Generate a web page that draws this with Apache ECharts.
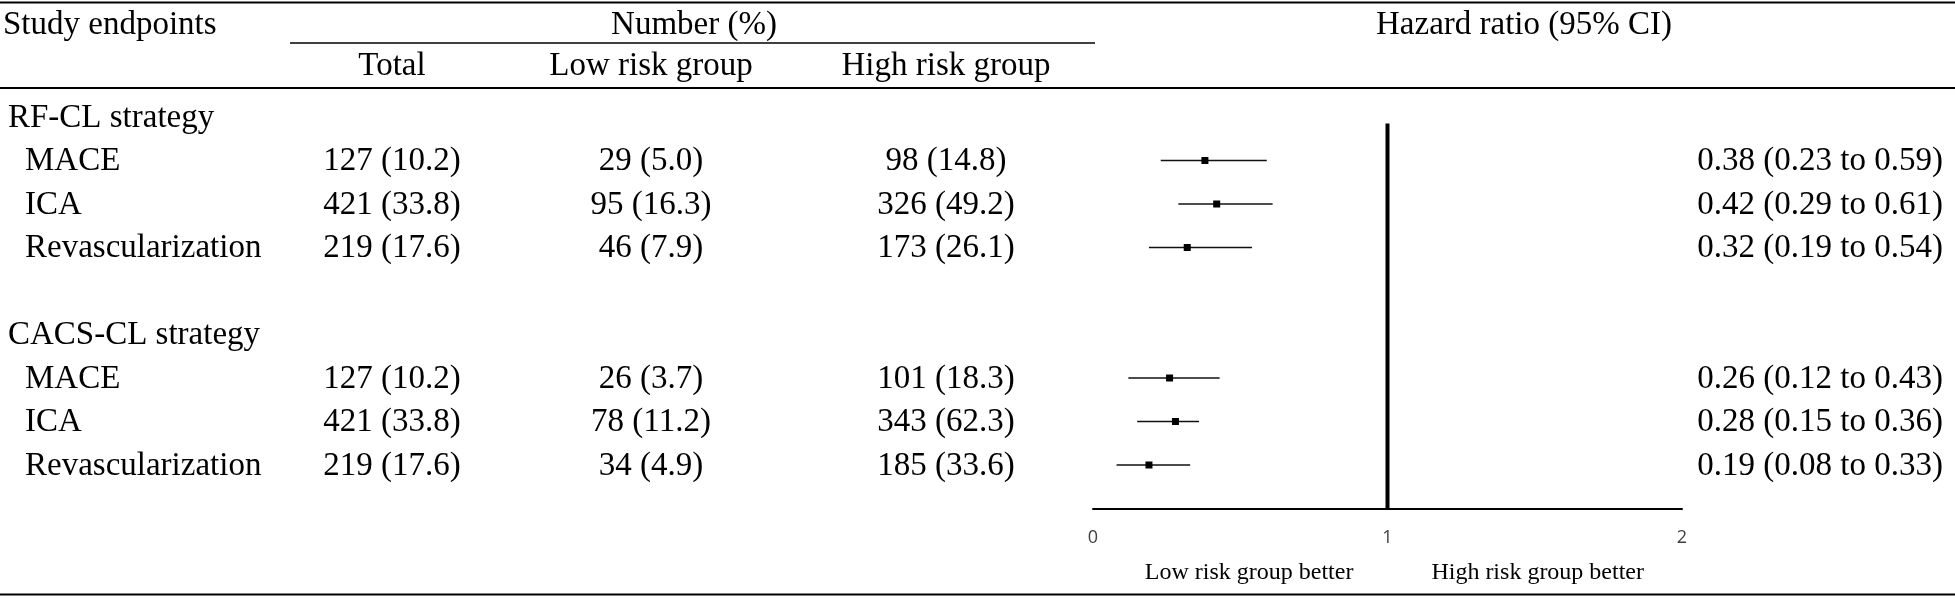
<!DOCTYPE html>
<html><head><meta charset="utf-8">
<script src="https://cdn.jsdelivr.net/npm/echarts@6/dist/echarts.min.js"></script>
<style>html,body{margin:0;padding:0;background:#fff}#c{width:1955px;height:598px}</style>
</head><body><div id="c"></div>
<script>
// ---- data ----
const groups = ['RF-CL strategy', 'CACS-CL strategy'];
const endpoints = ['MACE', 'ICA', 'Revascularization'];
const headerCols = ['Total', 'Low risk group', 'High risk group'];
const totalN = [127, 421, 219];
const totalPct = [10.2, 33.8, 17.6];
const rfLowN = [29, 95, 46];
const rfLowPct = [5.0, 16.3, 7.9];
const rfHighN = [98, 326, 173];
const rfHighPct = [14.8, 49.2, 26.1];
const cacsLowN = [26, 78, 34];
const cacsLowPct = [3.7, 11.2, 4.9];
const cacsHighN = [101, 343, 185];
const cacsHighPct = [18.3, 62.3, 33.6];
const rfHR = [0.38, 0.42, 0.32];
const rfLo = [0.23, 0.29, 0.19];
const rfHi = [0.59, 0.61, 0.54];
const cacsHR = [0.26, 0.28, 0.19];
const cacsLo = [0.12, 0.15, 0.08];
const cacsHi = [0.43, 0.36, 0.33];
const xTicks = [0, 1, 2];
const refValue = 1;

// ---- build rows ----
const fmt = (n, p) => n + ' (' + p.toFixed(1) + ')';
const fmtHR = (h, l, u) => h.toFixed(2) + ' (' + l.toFixed(2) + ' to ' + u.toFixed(2) + ')';
const blocks = [
  {name: groups[0], low: [rfLowN, rfLowPct], high: [rfHighN, rfHighPct], hr: [rfHR, rfLo, rfHi]},
  {name: groups[1], low: [cacsLowN, cacsLowPct], high: [cacsHighN, cacsHighPct], hr: [cacsHR, cacsLo, cacsHi]}
];
const rows = [];
let r = 0;
blocks.forEach((b, bi) => {
  rows.push({kind: 'group', label: b.name, row: r}); r++;
  endpoints.forEach((e, i) => {
    rows.push({kind: 'item', label: e, row: r,
      total: fmt(totalN[i], totalPct[i]),
      low: fmt(b.low[0][i], b.low[1][i]),
      high: fmt(b.high[0][i], b.high[1][i]),
      hrText: fmtHR(b.hr[0][i], b.hr[1][i], b.hr[2][i]),
      hr: b.hr[0][i], lo: b.hr[1][i], hi: b.hr[2][i]});
    r++;
  });
  if (bi < blocks.length - 1) r++;
});

const forestData = rows.filter(d => d.kind === 'item').map(d => [d.hr, d.row, d.lo, d.hi]);

// ---- layout ----
const W = 1955, H = 598;
const SERIF = '"Liberation Serif","Times New Roman",serif';
const FS = 33;
const colX = {total: 392, low: 651, high: 946, hrRight: 1943};

const chart = echarts.init(document.getElementById('c'), null, {renderer: 'canvas'});
chart.setOption({
  animation: false,
  backgroundColor: '#fff',
  grid: {left: 1093, right: W - 1682, top: 117, height: 43.5 * 9},
  xAxis: {
    type: 'value', position: 'bottom', min: xTicks[0], max: xTicks[xTicks.length - 1], interval: 1,
    axisLine: {show: true, onZero: false, lineStyle: {color: '#000', width: 2}},
    axisTick: {show: false},
    splitLine: {show: false},
    axisLabel: {fontFamily: '"Open Sans","DejaVu Sans",sans-serif', fontSize: 18, color: '#404040', margin: 20}
  },
  yAxis: {type: 'value', min: 0, max: 9, inverse: true, show: false},
  series: [
    {
      type: 'line', silent: true, symbol: 'none',
      data: [[refValue, 0.15], [refValue, 9]],
      lineStyle: {color: '#000', width: 4}
    },
    {
      type: 'custom', silent: true,
      encode: {x: 0, y: 1},
      data: forestData,
      renderItem: function (params, api) {
        const pLo = api.coord([api.value(2), api.value(1)]);
        const pHi = api.coord([api.value(3), api.value(1)]);
        const pM = api.coord([api.value(0), api.value(1)]);
        return {type: 'group', children: [
          {type: 'line', shape: {x1: pLo[0], y1: pLo[1], x2: pHi[0], y2: pHi[1]}, style: {stroke: '#111', lineWidth: 1.6}},
          {type: 'rect', shape: {x: pM[0] - 3.5, y: pM[1] - 3.5, width: 7, height: 7}, style: {fill: '#000'}}
        ]};
      }
    }
  ]
});

const yPix = v => chart.convertToPixel({yAxisIndex: 0}, v);
const txt = (t, x, y, align, size, font) => ({
  type: 'text', x: x, y: y, silent: true,
  style: {text: t, fill: '#000', font: (size || FS) + 'px ' + (font || SERIF), textAlign: align || 'left', textVerticalAlign: 'middle'}
});
const hline = (x1, x2, y, w) => ({type: 'line', silent: true, shape: {x1: x1, y1: y, x2: x2, y2: y}, style: {stroke: '#000', lineWidth: w}});

const g = [];
g.push(hline(0, W, 2.5, 2));
g.push(hline(290, 1095, 43, 1.5));
g.push(hline(0, W, 88, 2));
g.push(hline(0, W, 594.5, 2));
g.push(txt('Study endpoints', 3, 25));
g.push(txt('Number (%)', 694, 25, 'center'));
g.push(txt('Hazard ratio (95% CI)', 1524, 25, 'center'));
g.push(txt(headerCols[0], colX.total, 66, 'center'));
g.push(txt(headerCols[1], colX.low, 66, 'center'));
g.push(txt(headerCols[2], colX.high, 66, 'center'));
rows.forEach(d => {
  const y = yPix(d.row) + 1;
  if (d.kind === 'group') {
    g.push(txt(d.label, 8, y));
  } else {
    g.push(txt(d.label, 25, y));
    g.push(txt(d.total, colX.total, y, 'center'));
    g.push(txt(d.low, colX.low, y, 'center'));
    g.push(txt(d.high, colX.high, y, 'center'));
    g.push(txt(d.hrText, colX.hrRight, y, 'right'));
  }
});
const xPix = v => chart.convertToPixel({xAxisIndex: 0}, v);
g.push(txt('Low risk group better', xPix(0.53), 573, 'center', 24));
g.push(txt('High risk group better', xPix(1.51), 573, 'center', 24));
chart.setOption({graphic: {elements: g}});
</script>
</body></html>
